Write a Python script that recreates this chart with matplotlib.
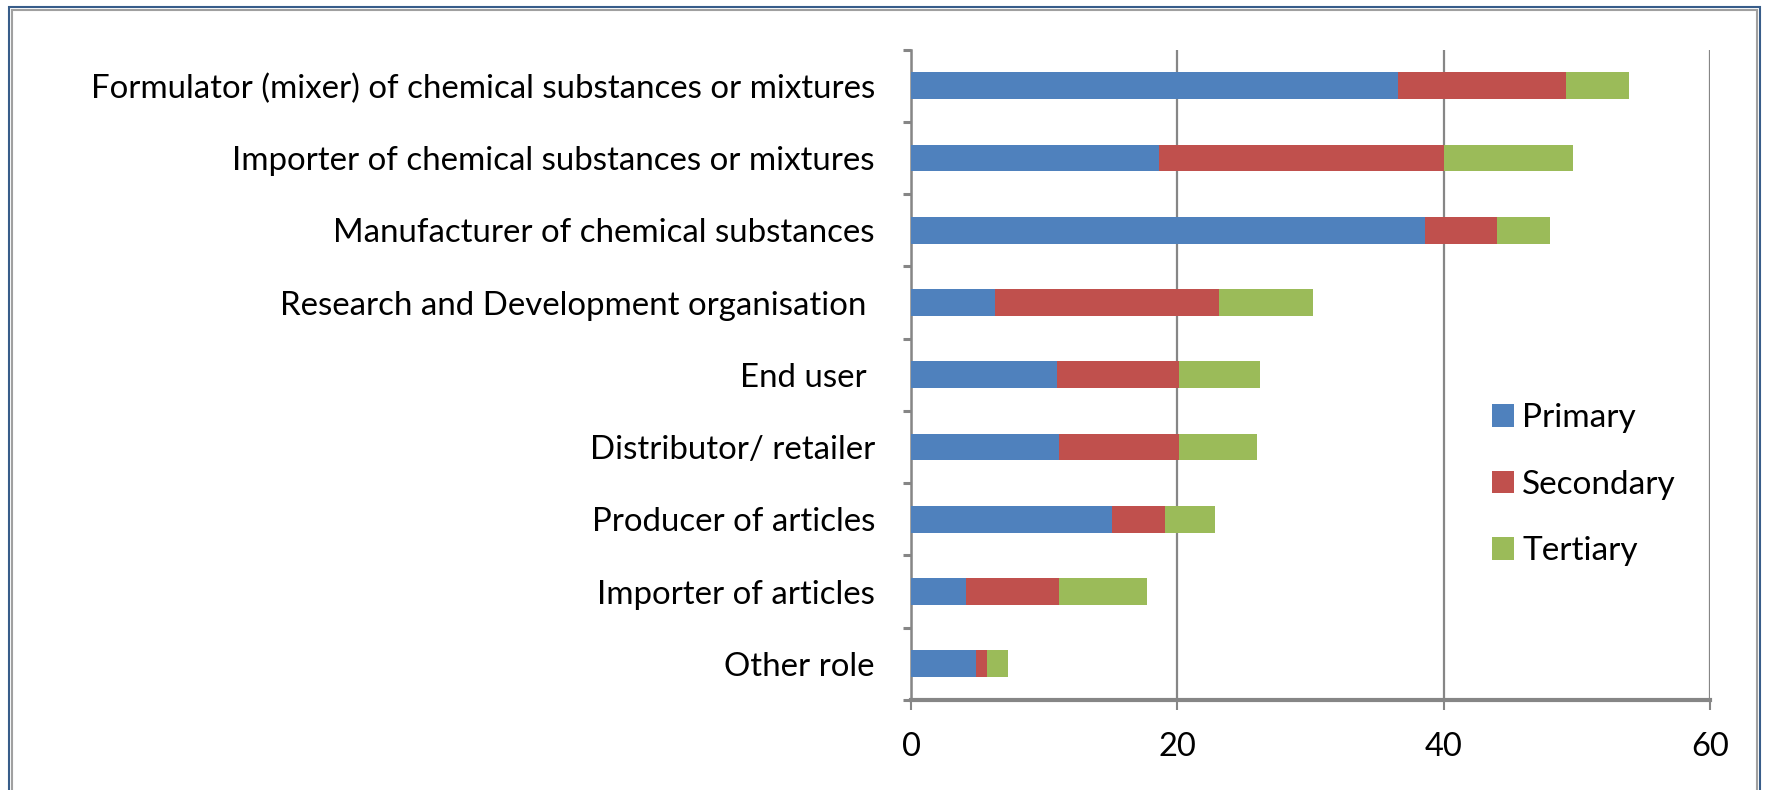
import matplotlib
matplotlib.use("Agg")
import matplotlib.pyplot as plt
import matplotlib.patches as mpatches
import numpy as np

plt.rcParams['font.family'] = ['Lato', 'DejaVu Sans']

categories = ['Formulator (mixer) of chemical substances or mixtures',
              'Importer of chemical substances or mixtures',
              'Manufacturer of chemical substances',
              'Research and Development organisation ',
              'End user ',
              'Distributor/ retailer',
              'Producer of articles',
              'Importer of articles',
              'Other role']
primary = [36.6, 18.6, 38.6, 6.3, 11.0, 11.1, 15.1, 4.1, 4.9]
secondary = [12.6, 21.4, 5.4, 16.8, 9.1, 9.0, 4.0, 7.0, 0.8]
tertiary = [4.7, 9.7, 4.0, 7.1, 6.1, 5.9, 3.7, 6.6, 1.6]
x_ticks = [0, 20, 40, 60]

col_primary = '#4F81BD'
col_secondary = '#C0504D'
col_tertiary = '#9BBB59'
grey = '#868686'

W, H = 1769, 790
fig = plt.figure(figsize=(W / 100, H / 100), dpi=100)
ax = fig.add_axes([911 / W, 1 - 700 / H, 799 / W, 650.4 / H])

y = np.arange(len(categories))
p = np.array(primary)
s = np.array(secondary)
t = np.array(tertiary)
bh = 0.37
ax.barh(y, p, height=bh, color=col_primary, label='Primary', zorder=3)
ax.barh(y, s, left=p, height=bh, color=col_secondary, label='Secondary', zorder=3)
ax.barh(y, t, left=p + s, height=bh, color=col_tertiary, label='Tertiary', zorder=3)

ax.set_ylim(len(categories) - 0.5, -0.5)
ax.set_xlim(0, 60)
ax.set_yticks(y)
ax.set_yticklabels(categories, fontsize=23.8)
ax.set_yticks(np.arange(-0.5, len(categories)), minor=True)
ax.tick_params(axis='y', which='major', length=0, pad=26)
ax.tick_params(axis='y', which='minor', length=6, width=2.2, color=grey)
ax.set_xticks(x_ticks)
ax.tick_params(axis='x', length=7, width=1.5, color=grey, labelsize=23.5, pad=16)

ax.grid(axis='x', color=grey, linewidth=1.6, zorder=0)
for side in ['top', 'right']:
    ax.spines[side].set_visible(False)
ax.spines['left'].set_color(grey)
ax.spines['left'].set_linewidth(1.8)
ax.spines['bottom'].set_color(grey)
ax.spines['bottom'].set_linewidth(3)

fig.legend(loc='upper left', bbox_to_anchor=(1492 / W, 1 - 403 / H), frameon=False,
           fontsize=24, handlelength=0.66, handleheight=0.66, handletextpad=0.25,
           labelspacing=1.1, borderpad=0, borderaxespad=0)

# double frame around the chart
fig.patches.append(mpatches.Rectangle((9 / W, -0.05), (1760 - 9) / W, 1 - 7 / H + 0.05,
                                      transform=fig.transFigure, fill=False,
                                      edgecolor='#385D8A', linewidth=1.5))
fig.patches.append(mpatches.Rectangle((12 / W, -0.05), (1757 - 12) / W, 1 - 10 / H + 0.05,
                                      transform=fig.transFigure, fill=False,
                                      edgecolor='#A0A0A0', linewidth=1.5))

fig.savefig('out.png', dpi=100)
